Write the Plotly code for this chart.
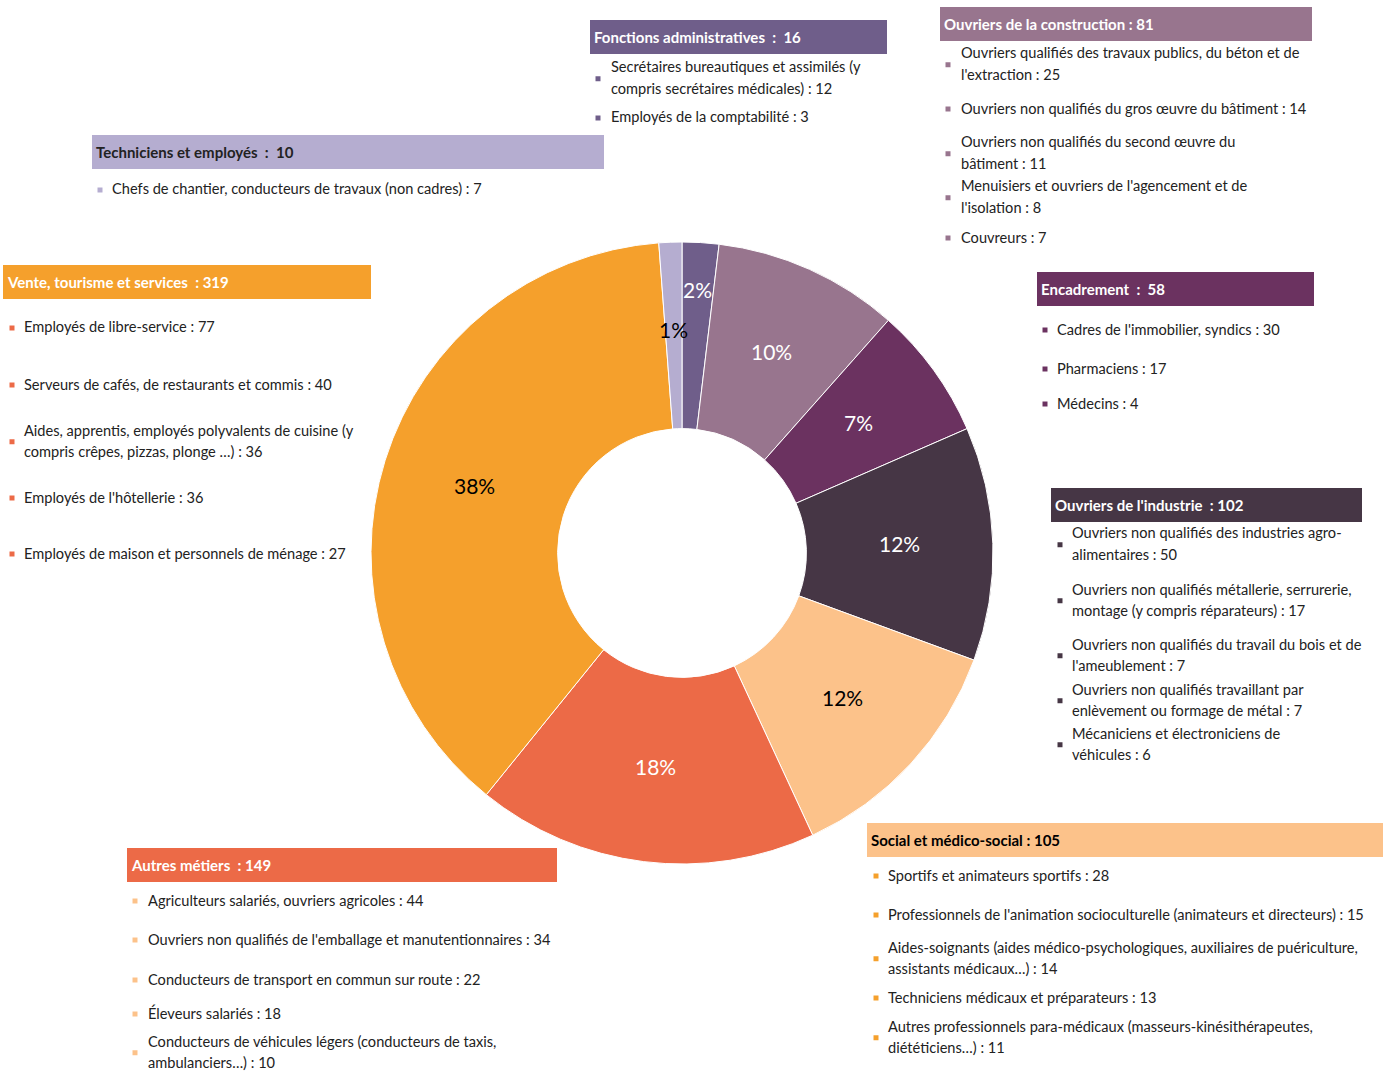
import math
import plotly.graph_objects as go

W, H = 1384, 1073

# main groups, clockwise from 12 o'clock
groups = ["Fonctions administratives", "Ouvriers de la construction", "Encadrement",
          "Ouvriers de l'industrie", "Social et médico-social", "Autres métiers",
          "Vente, tourisme et services", "Techniciens et employés"]
group_values = [16, 81, 58, 102, 105, 149, 319, 10]
header_seps = ["  :  ", " : ", "  :  ", "  : ", " : ", "  : ", "  : ", "  :  "]
pct_labels = ["2%", "10%", "7%", "12%", "12%", "18%", "38%", "1%"]
colors = ["#6F5E8A", "#98758E", "#6B3260", "#463645",
          "#FCC28A", "#EC6A47", "#F5A02C", "#B5ADD0"]
pct_colors = ["white", "white", "white", "white", "black", "white", "black", "black"]

# detail of each group ("\n" = line break as in the original)
admin_jobs = ["Secrétaires bureautiques et assimilés (y\ncompris secrétaires médicales)",
              "Employés de la comptabilité"]
admin_counts = [12, 3]

construction_jobs = ["Ouvriers qualifiés des travaux publics, du béton et de\nl'extraction",
                     "Ouvriers non qualifiés du gros œuvre du bâtiment",
                     "Ouvriers non qualifiés du second œuvre du\nbâtiment",
                     "Menuisiers et ouvriers de l'agencement et de\nl'isolation",
                     "Couvreurs"]
construction_counts = [25, 14, 11, 8, 7]

encadrement_jobs = ["Cadres de l'immobilier, syndics", "Pharmaciens", "Médecins"]
encadrement_counts = [30, 17, 4]

industrie_jobs = ["Ouvriers non qualifiés des industries agro-\nalimentaires",
                  "Ouvriers non qualifiés métallerie, serrurerie,\nmontage (y compris réparateurs)",
                  "Ouvriers non qualifiés du travail du bois et de\nl'ameublement",
                  "Ouvriers non qualifiés travaillant par\nenlèvement ou formage de métal",
                  "Mécaniciens et électroniciens de\nvéhicules"]
industrie_counts = [50, 17, 7, 7, 6]

social_jobs = ["Sportifs et animateurs sportifs",
               "Professionnels de l'animation socioculturelle (animateurs et directeurs)",
               "Aides-soignants (aides médico-psychologiques, auxiliaires de puériculture,\nassistants médicaux…)",
               "Techniciens médicaux et préparateurs",
               "Autres professionnels para-médicaux (masseurs-kinésithérapeutes,\ndiététiciens…)"]
social_counts = [28, 15, 14, 13, 11]

autres_jobs = ["Agriculteurs salariés, ouvriers agricoles",
               "Ouvriers non qualifiés de l'emballage et manutentionnaires",
               "Conducteurs de transport en commun sur route",
               "Éleveurs salariés",
               "Conducteurs de véhicules légers (conducteurs de taxis,\nambulanciers…)"]
autres_counts = [44, 34, 22, 18, 10]

vente_jobs = ["Employés de libre-service",
              "Serveurs de cafés, de restaurants et commis",
              "Aides, apprentis, employés polyvalents de cuisine (y\ncompris crêpes, pizzas, plonge …)",
              "Employés de l'hôtellerie",
              "Employés de maison et personnels de ménage"]
vente_counts = [77, 40, 36, 36, 27]

techniciens_jobs = ["Chefs de chantier, conducteurs de travaux (non cadres)"]
techniciens_counts = [7]

jobs = [admin_jobs, construction_jobs, encadrement_jobs, industrie_jobs,
        social_jobs, autres_jobs, vente_jobs, techniciens_jobs]
counts = [admin_counts, construction_counts, encadrement_counts, industrie_counts,
          social_counts, autres_counts, vente_counts, techniciens_counts]

# box placement in pixels: header rect, header text colour, bullet colour, bullet x, text x, first-line y of each item
boxes = [
    dict(rect=(590, 20, 887, 54), hcol="white", bcol="#6F5E8A", bx=598, tx=611, ys=[67, 117]),
    dict(rect=(940, 7, 1312, 41), hcol="white", bcol="#98758E", bx=948, tx=961, ys=[53, 108, 142, 186, 237]),
    dict(rect=(1037, 272, 1314, 306), hcol="white", bcol="#6B3260", bx=1045, tx=1057, ys=[329, 368, 403]),
    dict(rect=(1051, 488, 1362, 522), hcol="white", bcol="#463645", bx=1060, tx=1072, ys=[533, 589, 644, 689, 733]),
    dict(rect=(867, 823, 1383, 857), hcol="black", bcol="#F5A02C", bx=876, tx=888, ys=[875, 914, 947, 997, 1026]),
    dict(rect=(127, 848, 557, 882), hcol="white", bcol="#FCC28A", bx=135, tx=148, ys=[900, 939, 979, 1013, 1041]),
    dict(rect=(3, 265, 371, 299), hcol="white", bcol="#EC6A47", bx=12, tx=24, ys=[327, 384, 430, 497, 553]),
    dict(rect=(92, 135, 604, 169), hcol="#222222", bcol="#B5ADD0", bx=100, tx=112, ys=[189]),
]
# radial position of the percent labels, as a fraction of the outer radius
label_r = [0.84, 0.70, 0.70, 0.70, 0.70, 0.70, 0.70, 0.71]
LINE = 21.5
BODY_FONT = "Lato, Noto Sans, sans-serif"
HEAD_FONT = "Lato, Noto Sans, sans-serif"


def px(x):
    return x / W


def py(y):
    return 1 - y / H


fig = go.Figure()

cx, cy, r = 682, 553, 311
fig.add_trace(go.Pie(
    labels=groups,
    values=group_values,
    textinfo="none",
    sort=False,
    direction="clockwise",
    rotation=0,
    hole=0.4,
    marker=dict(colors=colors, line=dict(color="white", width=1)),
    showlegend=False,
    hoverinfo="label+value+percent",
    domain=dict(x=[px(cx - r), px(cx + r)], y=[py(cy + r), py(cy - r)]),
))

shapes = []
annotations = []

# percent labels at the middle angle of each slice
total = sum(group_values)
cum = 0
for v, lab, col, f in zip(group_values, pct_labels, pct_colors, label_r):
    theta = 2 * math.pi * (cum + v / 2) / total
    cum += v
    annotations.append(dict(x=px(cx + f * r * math.sin(theta)), y=py(cy - f * r * math.cos(theta) - 3),
                            xref="paper", yref="paper", text=lab, showarrow=False,
                            xanchor="center", yanchor="middle",
                            font=dict(family=BODY_FONT, size=21, color=col)))

for name, val, sep, box, items, nums in zip(groups, group_values, header_seps, boxes, jobs, counts):
    x0, y0, x1, y1 = box["rect"]
    shapes.append(dict(type="rect", xref="paper", yref="paper",
                       x0=px(x0), x1=px(x1), y0=py(y1), y1=py(y0),
                       fillcolor=colors[groups.index(name)], line=dict(width=0), layer="below"))
    head = f"{name}{sep}{val}".replace("  ", "\u00a0 ")
    annotations.append(dict(x=px(x0 + 2), y=py((y0 + y1) / 2), xref="paper", yref="paper",
                            text=f"<b>{head}</b>", showarrow=False,
                            xanchor="left", yanchor="middle",
                            font=dict(family=HEAD_FONT, size=15, color=box["hcol"])))
    for label, n, ly in zip(items, nums, box["ys"]):
        lines = f"{label} : {n}".split("\n")
        for k, line in enumerate(lines):
            annotations.append(dict(x=px(box["tx"] - 2), y=py(ly + k * LINE), xref="paper", yref="paper",
                                    text=line, showarrow=False, xanchor="left", yanchor="middle",
                                    font=dict(family=BODY_FONT, size=14.6, color="#222222")))
        by = ly + (len(lines) - 1) * LINE / 2 + 1
        shapes.append(dict(type="rect", xref="paper", yref="paper",
                           x0=px(box["bx"] - 2.5), x1=px(box["bx"] + 2.5),
                           y0=py(by + 2.5), y1=py(by - 2.5),
                           fillcolor=box["bcol"], line=dict(width=0)))

fig.update_layout(
    width=W, height=H,
    margin=dict(l=0, r=0, t=0, b=0),
    paper_bgcolor="white",
    plot_bgcolor="white",
    shapes=shapes,
    annotations=annotations,
)

fig.write_html("out.html", config={"displayModeBar": False},
               post_script="document.body.style.margin='0';")
